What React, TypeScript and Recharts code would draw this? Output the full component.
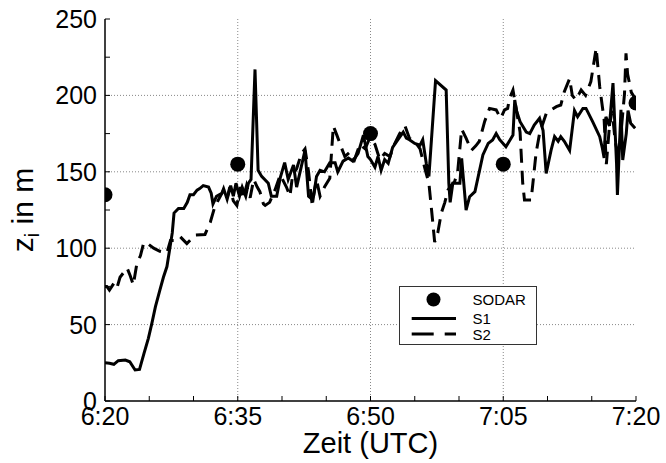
import React from 'react';
import { ComposedChart, Line, Scatter, XAxis, YAxis, ReferenceLine } from 'recharts';

// time in minutes after 6:20 UTC, value = z_i in m
const SODAR_POINTS: [number, number][] = [[0, 135], [15, 155], [30, 175], [45, 155], [60, 195]];

const S1_POINTS: [number, number][] = [
  [0, 25], [0.5, 24.7], [1, 24], [1.5, 26.4], [2.3, 26.8], [2.8, 25.7], [3.4, 20.3], [3.9, 20.7], [4.4, 31], [4.9, 41],
  [5.3, 51], [5.7, 61.7], [6.2, 72.6], [6.6, 81], [7.0, 88], [7.3, 99], [7.6, 110], [7.8, 123], [8.3, 126], [8.9, 126],
  [9.3, 130], [9.6, 135], [10.0, 135], [10.4, 138], [10.7, 139], [11.1, 141], [11.7, 140], [12.0, 136], [12.2, 129], [12.6, 134],
  [13.2, 136], [13.4, 139], [13.8, 132], [14.2, 141], [14.5, 134], [14.8, 142.5], [15.2, 134], [15.5, 140], [15.9, 134], [16.2, 142.5],
  [16.5, 145], [16.95, 217], [17.3, 151], [17.7, 147], [18.45, 142.5], [18.8, 134], [19.4, 134], [19.8, 146], [20.3, 156], [20.7, 145],
  [21.3, 154.5], [21.65, 140], [22.6, 164], [23.0, 134], [23.5, 131.5], [23.9, 147], [24.3, 151], [24.8, 150], [25.4, 156], [26.0, 156],
  [26.3, 150], [26.9, 157], [27.5, 159], [28.0, 157], [28.6, 162], [29.2, 174], [29.7, 160], [30.0, 158], [30.5, 153], [30.85, 160],
  [31.2, 151], [31.6, 158], [32.0, 155.6], [32.5, 166], [33.1, 171], [33.7, 176], [34.05, 172], [34.4, 171], [35.0, 168.6], [35.6, 167.5],
  [35.9, 171], [36.3, 155.6], [36.6, 147], [37.35, 209.6], [38.55, 203.5], [38.85, 142.5], [39.0, 130], [39.3, 142.5], [40.1, 142.5], [40.3, 158.8],
  [40.8, 125], [41.2, 133.7], [41.8, 137], [42.7, 161], [43.3, 168.6], [43.8, 170.8], [44.2, 175], [44.6, 171], [45.3, 166.4], [46.1, 174],
  [46.3, 197], [46.5, 190], [46.9, 182.8], [47.6, 176], [48.0, 175], [48.5, 180.6], [49.1, 185], [49.5, 177], [49.85, 149], [50.4, 164],
  [50.8, 173], [51.2, 170], [51.5, 173], [51.9, 170], [52.5, 164], [53.05, 190], [53.4, 186], [54.0, 191.5], [54.35, 191.5], [55.1, 182.8],
  [55.9, 173], [56.2, 165.4], [56.4, 159], [56.6, 186], [57.0, 180], [57.4, 208], [57.8, 155.6], [57.9, 134.8], [58.3, 190.5], [58.5, 157.7],
  [58.9, 175], [59.1, 190], [59.4, 181.7], [59.9, 178.5],
];

const S2_POINTS: [number, number][] = [
  [0, 75], [0.2, 75], [0.5, 72.6], [1.0, 77], [1.35, 74], [1.7, 81], [2.5, 87], [2.85, 82], [3.2, 76], [3.6, 90],
  [4.0, 95], [4.35, 103], [4.6, 104], [5.5, 100], [6.2, 98], [7.0, 97], [7.4, 105], [7.9, 105], [8.5, 107.5], [9.25, 103],
  [10.2, 108.6], [11.3, 109], [11.9, 117], [12.4, 127], [12.8, 131.5], [13.4, 138], [13.8, 133], [14.1, 140], [14.5, 131], [14.9, 128],
  [15.3, 140], [15.6, 132], [16.0, 141], [16.4, 133], [16.8, 145], [17.2, 140], [17.5, 137], [17.9, 129], [18.1, 128], [18.6, 130],
  [19.2, 138], [19.8, 148], [20.5, 140], [20.9, 134], [21.2, 148], [21.65, 152], [22.2, 162], [22.6, 165], [23.0, 150], [23.4, 129],
  [23.9, 145], [24.3, 134], [24.8, 140], [25.4, 145.7], [25.8, 180], [26.2, 174], [26.7, 166], [27.1, 160], [27.7, 163], [28.2, 158],
  [28.8, 168], [29.4, 165], [29.9, 172], [30.5, 168], [31.05, 158], [31.6, 162], [32.2, 160], [32.7, 168], [33.3, 175], [33.9, 180],
  [34.4, 172], [35.0, 170], [35.6, 165], [36.2, 151], [36.6, 142.5], [36.9, 125], [37.25, 104], [37.6, 110], [38.0, 123], [38.4, 130],
  [38.75, 138], [39.1, 141], [39.5, 143.5], [39.85, 150], [40.3, 178], [40.8, 172], [41.4, 164], [41.9, 167], [42.3, 170], [42.9, 183],
  [43.45, 191.5], [44.2, 190.5], [44.7, 185], [45.15, 190.5], [45.5, 191.5], [45.7, 198], [46.1, 203.5], [46.5, 190], [46.9, 176], [47.2, 142.5],
  [47.4, 131.5], [48.15, 131.5], [48.35, 142.5], [48.7, 162], [49.1, 175], [49.85, 188], [50.4, 190.5], [51.0, 192.6], [51.5, 193.7], [51.9, 202.4],
  [52.5, 211], [52.8, 200], [53.2, 197], [53.8, 203.5], [54.3, 200], [54.9, 209], [55.5, 231], [55.9, 205.7], [56.2, 192.6], [56.4, 184],
  [56.65, 155], [57.0, 180], [57.3, 190], [57.65, 170], [58.0, 160], [58.3, 175], [58.7, 201], [58.87, 227.5], [59.05, 214], [59.47, 202],
  [59.9, 198],
];

const X_TICKS = [0, 5, 10, 15, 20, 25, 30, 35, 40, 45, 50, 55, 60];
const X_MAJOR: Record<number, string> = { 0: '6:20', 15: '6:35', 30: '6:50', 45: '7:05', 60: '7:20' };
const Y_TICKS = [0, 25, 50, 75, 100, 125, 150, 175, 200, 225, 250];
const Y_MAJOR = [0, 50, 100, 150, 200, 250];
const GRID_X = [15, 30, 45];
const GRID_Y = [50, 100, 150, 200];
const SERIES_NAMES = ['SODAR', 'S1', 'S2'];
const X_TITLE = 'Zeit (UTC)';

const toData = (pts: [number, number][]) => pts.map(([t, v]) => ({ t, v }));
const sodarData = toData(SODAR_POINTS);
const s1Data = toData(S1_POINTS);
const s2Data = toData(S2_POINTS);

const FONT = '"Liberation Sans", Arial, sans-serif';
const W = 666;
const H = 463;
const TICK_LEN = 5;

const BottomTick = (p: any) => {
  const { x, y, payload } = p;
  const lbl = X_MAJOR[payload.value];
  return (
    <g>
      <line x1={x} y1={y} x2={x} y2={y - TICK_LEN} stroke="#000" strokeWidth={1} />
      {lbl !== undefined && (
        <text x={x} y={y + 24} textAnchor="middle" fontSize={25} fontFamily={FONT} fill="#000">{lbl}</text>
      )}
    </g>
  );
};
const TopTick = (p: any) => {
  const { x, y } = p;
  return <line x1={x} y1={y} x2={x} y2={y + TICK_LEN} stroke="#000" strokeWidth={1} />;
};
const LeftTick = (p: any) => {
  const { x, y, payload } = p;
  const major = Y_MAJOR.includes(payload.value);
  return (
    <g>
      <line x1={x} y1={y} x2={x + TICK_LEN} y2={y} stroke="#000" strokeWidth={1} />
      {major && (
        <text x={x - 8} y={y + 9} textAnchor="end" fontSize={25} fontFamily={FONT} fill="#000">{payload.value}</text>
      )}
    </g>
  );
};
const RightTick = (p: any) => {
  const { x, y } = p;
  return <line x1={x} y1={y} x2={x - TICK_LEN} y2={y} stroke="#000" strokeWidth={1} />;
};

const Dot = (p: any) => <circle cx={p.cx} cy={p.cy} r={7.5} fill="#000" />;

const YTitle = () => (
  <text transform="rotate(-90 33 210)" x={33} y={210} textAnchor="middle" fontSize={30} fontFamily={FONT} fill="#000">
    <tspan>z</tspan>
    <tspan dy={6} fontSize={20}>i</tspan>
    <tspan dy={-6}> in m</tspan>
  </text>
);
const XTitle = () => (
  <text x={370.5} y={453} textAnchor="middle" fontSize={29} fontFamily={FONT} fill="#000">{X_TITLE}</text>
);

const LegendBox = () => (
  <div style={{ position: 'absolute', left: 399, top: 286, width: 138, height: 59, boxSizing: 'border-box', border: '1px solid #333', background: '#fff' }}>
    <svg width={136} height={57} style={{ display: 'block' }}>
      <circle cx={33.5} cy={12.5} r={7} fill="#000" />
      <line x1={11.7} y1={31.5} x2={56} y2={31.5} stroke="#000" strokeWidth={3} />
      <line x1={11.7} y1={47} x2={56} y2={47} stroke="#000" strokeWidth={3} strokeDasharray="22 11" />
      <text x={72.5} y={18} fontSize={15} fontFamily={FONT} fill="#000">{SERIES_NAMES[0]}</text>
      <text x={72.5} y={37} fontSize={15} fontFamily={FONT} fill="#000">{SERIES_NAMES[1]}</text>
      <text x={72.5} y={53} fontSize={15} fontFamily={FONT} fill="#000">{SERIES_NAMES[2]}</text>
    </svg>
  </div>
);

export default function App() {
  return (
    <div style={{ position: 'absolute', left: 0, top: 0, width: W, height: H, background: '#fff' }}>
      <ComposedChart width={W} height={H} margin={{ top: 19, right: 30, bottom: 0, left: 0 }}>
        <XAxis xAxisId="b" dataKey="t" type="number" domain={[0, 60]} ticks={X_TICKS} interval={0}
          orientation="bottom" height={62} tickSize={0} tickMargin={0} tickLine={false}
          axisLine={{ stroke: '#000', strokeWidth: 1.5 }} tick={<BottomTick />}
          label={<XTitle />} allowDataOverflow />
        <XAxis xAxisId="top" dataKey="t" type="number" domain={[0, 60]} ticks={X_TICKS} interval={0}
          orientation="top" height={0} tickSize={0} tickMargin={0} tickLine={false}
          axisLine={{ stroke: '#000', strokeWidth: 1.5 }} tick={<TopTick />} allowDataOverflow />
        <YAxis yAxisId="l" dataKey="v" type="number" domain={[0, 250]} ticks={Y_TICKS} interval={0}
          orientation="left" width={105} tickSize={0} tickMargin={0} tickLine={false}
          axisLine={{ stroke: '#000', strokeWidth: 1.5 }} tick={<LeftTick />}
          label={<YTitle />} allowDataOverflow />
        <YAxis yAxisId="r" dataKey="v" type="number" domain={[0, 250]} ticks={Y_TICKS} interval={0}
          orientation="right" width={0} tickSize={0} tickMargin={0} tickLine={false}
          axisLine={{ stroke: '#000', strokeWidth: 1.5 }} tick={<RightTick />} allowDataOverflow />
        {GRID_X.map((gx) => (
          <ReferenceLine key={'gx' + gx} x={gx} xAxisId="b" yAxisId="l" stroke="#888" strokeDasharray="1 2" strokeWidth={1} />
        ))}
        {GRID_Y.map((gy) => (
          <ReferenceLine key={'gy' + gy} y={gy} xAxisId="b" yAxisId="l" stroke="#888" strokeDasharray="1 2" strokeWidth={1} />
        ))}
        <Line data={s2Data} xAxisId="b" yAxisId="l" dataKey="v" name={SERIES_NAMES[2]} type="linear"
          stroke="#000" strokeWidth={3} strokeDasharray="14 8" dot={false} activeDot={false} isAnimationActive={false} />
        <Line data={s1Data} xAxisId="b" yAxisId="l" dataKey="v" name={SERIES_NAMES[1]} type="linear"
          stroke="#000" strokeWidth={3} dot={false} activeDot={false} isAnimationActive={false} />
        <Scatter data={sodarData} xAxisId="b" yAxisId="l" dataKey="v" name={SERIES_NAMES[0]}
          fill="#000" shape={<Dot />} isAnimationActive={false} />
      </ComposedChart>
      <LegendBox />
    </div>
  );
}
